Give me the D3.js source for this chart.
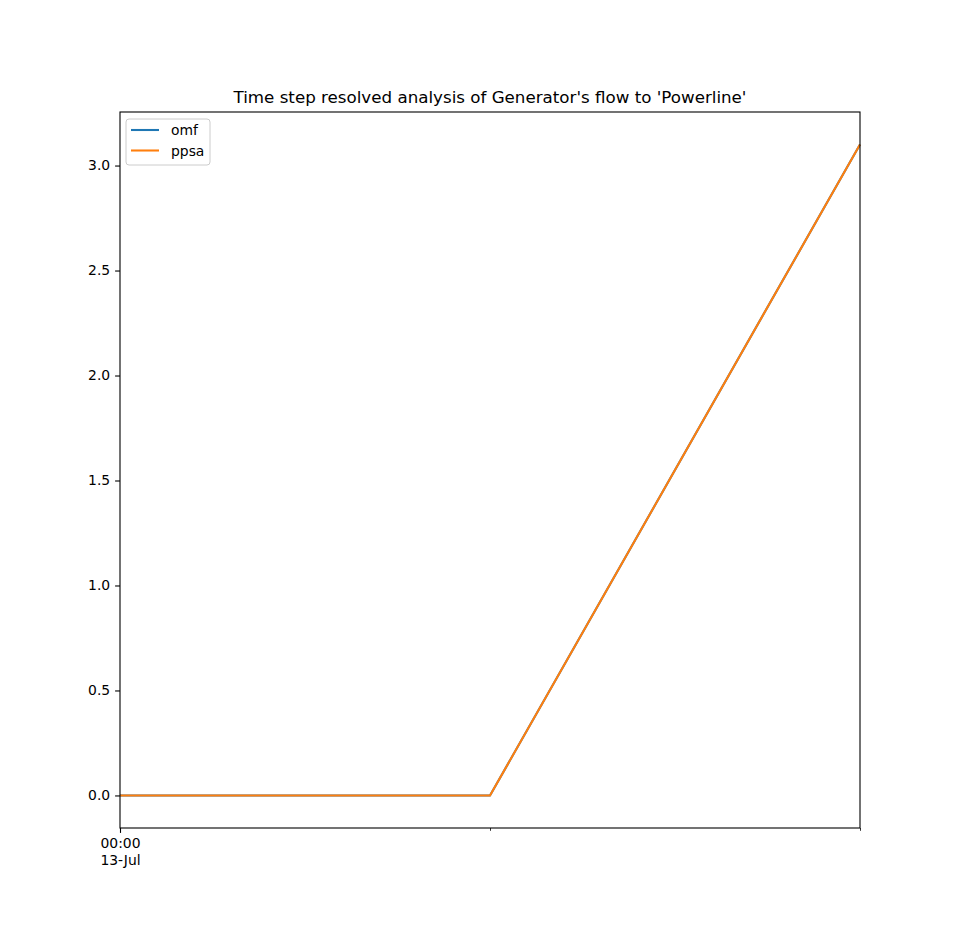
<!DOCTYPE html>
<html>
<head>
<meta charset="utf-8">
<script src="https://cdn.jsdelivr.net/npm/d3@7"></script>
<style>
  body { margin: 0; background: #fff; }
  svg { font-family: "DejaVu Sans", sans-serif; }
</style>
</head>
<body>
<script>
const width = 956;
const height = 930;
const plotLeft = 120, plotRight = 860, plotTop = 112, plotBottom = 828;

// data
const times = ["2020-07-13T00:00", "2020-07-13T01:00", "2020-07-13T02:00"];
const seriesNames = ["omf", "ppsa"];
const omf = [0, 0, 3.1];
const ppsa = [0, 0, 3.1];
const colors = ["#1f77b4", "#ff7f0e"];
const yTicks = [0.0, 0.5, 1.0, 1.5, 2.0, 2.5, 3.0];
const majorTimes = ["2020-07-13T00:00"];
const minorTimes = ["2020-07-13T01:00", "2020-07-13T02:00"];

const parse = d3.timeParse("%Y-%m-%dT%H:%M");
const dates = times.map(parse);
const series = [omf, ppsa];

const svg = d3.select("body").append("svg")
    .attr("width", width).attr("height", height);

const x = d3.scaleTime()
    .domain(d3.extent(dates))
    .range([plotLeft, plotRight]);

const yMax = d3.max(series.flat()), yMin = d3.min(series.flat());
const pad = (yMax - yMin) * 0.05;
const y = d3.scaleLinear()
    .domain([yMin - pad, yMax + pad])
    .range([plotBottom, plotTop]);

// lines
const line = d3.line()
    .x((d, i) => x(dates[i]))
    .y(d => y(d));

series.forEach((s, k) => {
    svg.append("path")
        .datum(s)
        .attr("fill", "none")
        .attr("stroke", colors[k])
        .attr("stroke-width", 2.08)
        .attr("stroke-linejoin", "round")
        .attr("d", line);
});

// y axis
const yAxis = d3.axisLeft(y).tickValues(yTicks)
    .tickFormat(d3.format(".1f")).tickSize(4.9).tickPadding(4.9);
const gy = svg.append("g")
    .attr("transform", "translate(" + plotLeft + ",0)")
    .call(yAxis);
gy.select(".domain").remove();
gy.selectAll("text").attr("font-size", "13.9px").attr("fill", "#000")
    .attr("font-family", "DejaVu Sans");
gy.selectAll("line").attr("stroke", "#000").attr("stroke-width", 1.1);

// x axis major
const xAxis = d3.axisBottom(x).tickValues(majorTimes.map(parse))
    .tickSize(4.9).tickPadding(4.9).tickFormat("");
const gx = svg.append("g")
    .attr("transform", "translate(0," + plotBottom + ")")
    .call(xAxis);
gx.select(".domain").remove();
gx.selectAll("line").attr("stroke", "#000").attr("stroke-width", 1.1);
gx.selectAll(".tick").each(function(d) {
    const t = d3.select(this).append("text")
        .attr("fill", "#000").attr("font-size", "13.9px")
        .attr("font-family", "DejaVu Sans")
        .attr("text-anchor", "middle");
    t.append("tspan").attr("x", 0).attr("y", 20).text(d3.timeFormat("%H:%M")(d));
    t.append("tspan").attr("x", 0).attr("y", 37).text(d3.timeFormat("%d-%b")(d));
});

// x axis minor
const xMinor = d3.axisBottom(x).tickValues(minorTimes.map(parse))
    .tickSize(2.8).tickFormat("");
const gxm = svg.append("g")
    .attr("transform", "translate(0," + plotBottom + ")")
    .call(xMinor);
gxm.select(".domain").remove();
gxm.selectAll("line").attr("stroke", "#000").attr("stroke-width", 0.8);

// frame
svg.append("rect")
    .attr("x", plotLeft).attr("y", plotTop)
    .attr("width", plotRight - plotLeft).attr("height", plotBottom - plotTop)
    .attr("fill", "none").attr("stroke", "#000").attr("stroke-width", 1.1);

// title
svg.append("text")
    .attr("x", (plotLeft + plotRight) / 2).attr("y", 103)
    .attr("text-anchor", "middle")
    .attr("font-size", "16.7px")
    .text("Time step resolved analysis of Generator's flow to 'Powerline'");

// legend
const lg = svg.append("g").attr("transform", "translate(126,119)");
lg.append("rect")
    .attr("width", 84).attr("height", 46).attr("rx", 3)
    .attr("fill", "#fff").attr("fill-opacity", 0.8)
    .attr("stroke", "#ccc").attr("stroke-width", 1);
seriesNames.forEach((name, k) => {
    const yy = 11 + k * 20.5;
    lg.append("line")
        .attr("x1", 5).attr("x2", 33).attr("y1", yy).attr("y2", yy)
        .attr("stroke", colors[k]).attr("stroke-width", 2.08);
    lg.append("text")
        .attr("x", 45).attr("y", yy + 5)
        .attr("font-size", "13.9px")
        .text(name);
});
</script>
</body>
</html>
